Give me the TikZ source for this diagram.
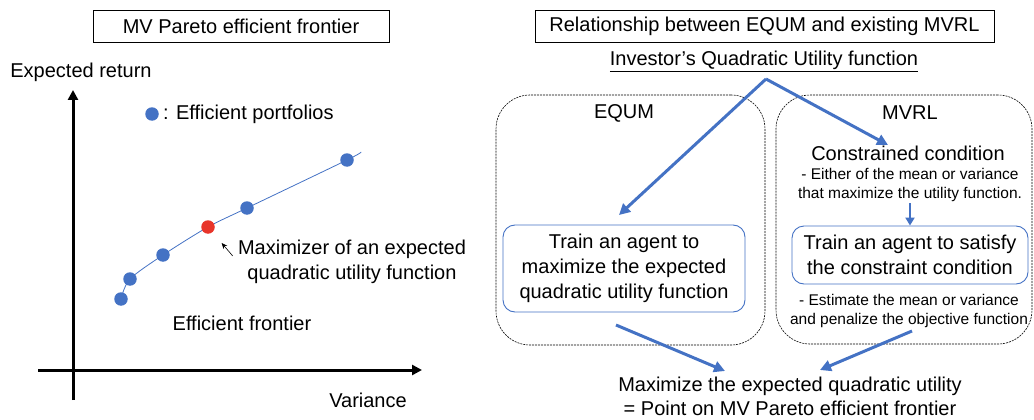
\documentclass[tikz,border=0pt]{standalone}
\usepackage{fontspec}
\setmainfont{Liberation Sans}
\usetikzlibrary{positioning,arrows.meta}
\definecolor{ofblue}{HTML}{4472C4}
\definecolor{ofred}{HTML}{E8352A}

\begin{document}
\begin{tikzpicture}[x=1pt,y=-1pt,
        every node/.style={font=\fontsize{20}{25}\selectfont, inner sep=0pt},
        small/.style={font=\fontsize{15.5}{19}\selectfont, align=center},
        headbox/.style={draw, line width=0.8pt, minimum height=32pt},
        groupbox/.style={draw, dash pattern=on 2pt off 1pt, line width=0.6pt, rounded corners=34pt},
        trainbox/.style={draw=ofblue, line width=0.9pt, rounded corners=12pt, align=center},
        flow/.style={draw=ofblue, line width=3pt, -{Triangle[length=11pt,width=11pt]}},
        axis/.style={line width=3pt, -{Triangle[length=10pt,width=10pt]}},
        pointer/.style={line width=0.6pt, -{Stealth[length=6pt,width=5pt]}},
        dot/.style={circle, fill=ofblue, minimum size=13.5pt}
    ]
    \useasboundingbox (0,0) rectangle (1034,420);

    % left panel: frontier
    \node[headbox, minimum width=296pt] (lhead) at (241,26) {MV Pareto efficient frontier};
    \node (yname) at (81,72) {Expected return};
    \node (xname) at (368,400) {Variance};
    \coordinate (ybot) at (73,400);
    \coordinate (ytop) at (73,90);
    \coordinate (xleft) at (38,370);
    \coordinate (xright) at (422,370);
    \draw[axis] (ybot) -- (ytop);
    \draw[axis] (xleft) -- (xright);

    \node[dot] (legdot) at (152,114) {};
    \node[right=4pt of legdot] (legtext) {: Efficient portfolios};

    \draw[ofblue, line width=0.8pt] plot[smooth] coordinates {(121,299) (130,279) (163,255) (208,227) (247,208) (347,160) (361,152)};
    \foreach \px/\py [count=\i] in {121/299, 130/279, 163/255, 247/208, 347/160} {
        \node[dot] (p\i) at (\px,\py) {};
    }
    \node[dot, fill=ofred] (best) at (208,227) {};

    \node[align=center] (maxlabel) at (352,262) {Maximizer of an expected\\quadratic utility function};
    \draw[pointer, shorten <=8pt, shorten >=14pt] (maxlabel.west) -- (best);
    \node (frontier) at (242,323) {Efficient frontier};

    % right panel: EQUM vs MVRL
    \node[headbox, minimum width=459pt] (rhead) at (764.5,26) {Relationship between EQUM and existing MVRL};
    \node (utility) at (764,61) {\underline{Investor’s Quadratic Utility function}};
    \coordinate (peak) at (766,79);

    \node[groupbox, minimum width=269pt, minimum height=250pt] (equmgroup) at (630.5,220) {};
    \node (equmname) at (624,113) {EQUM};
    \node[trainbox, minimum width=242pt, minimum height=87pt] (equmtrain) at (624,268.5)
        {Train an agent to\\maximize the expected\\quadratic utility function};

    \node[groupbox, minimum width=256pt, minimum height=249pt] (mvrlgroup) at (904,219.5) {};
    \node (mvrlname) at (910,113) {MVRL};
    \node (constraint) at (908,153) {Constrained condition};
    \node[small] (connote) at (910,184.5) {- Either of the mean or variance\\that maximize the utility function.};
    \node[trainbox, minimum width=236pt, minimum height=58pt] (mvtrain) at (910,255)
        {Train an agent to satisfy\\the constraint condition};
    \node[small] (estnote) at (909,311) {- Estimate the mean or variance\\and penalize the objective function};

    \node[align=center, font=\fontsize{20}{24}\selectfont] (result) at (790,396)
        {Maximize the expected quadratic utility\\= Point on MV Pareto efficient frontier};

    \coordinate (eqtip) at (619,215);
    \coordinate (mvtip) at (888,145);
    \coordinate (eqout) at (616,325);
    \coordinate (mvout) at (912,331);
    \coordinate (resleft) at (725,371);
    \coordinate (resright) at (820,370);
    \draw[flow] (peak) -- (eqtip);
    \draw[flow] (peak) -- (mvtip);
    \draw[draw=ofblue, line width=2.5pt, -{Triangle[length=8pt,width=9pt]}, shorten <=2pt]
        (connote.south) -- (mvtrain.north);
    \draw[flow] (eqout) -- (resleft);
    \draw[flow] (mvout) -- (resright);
\end{tikzpicture}
\end{document}
